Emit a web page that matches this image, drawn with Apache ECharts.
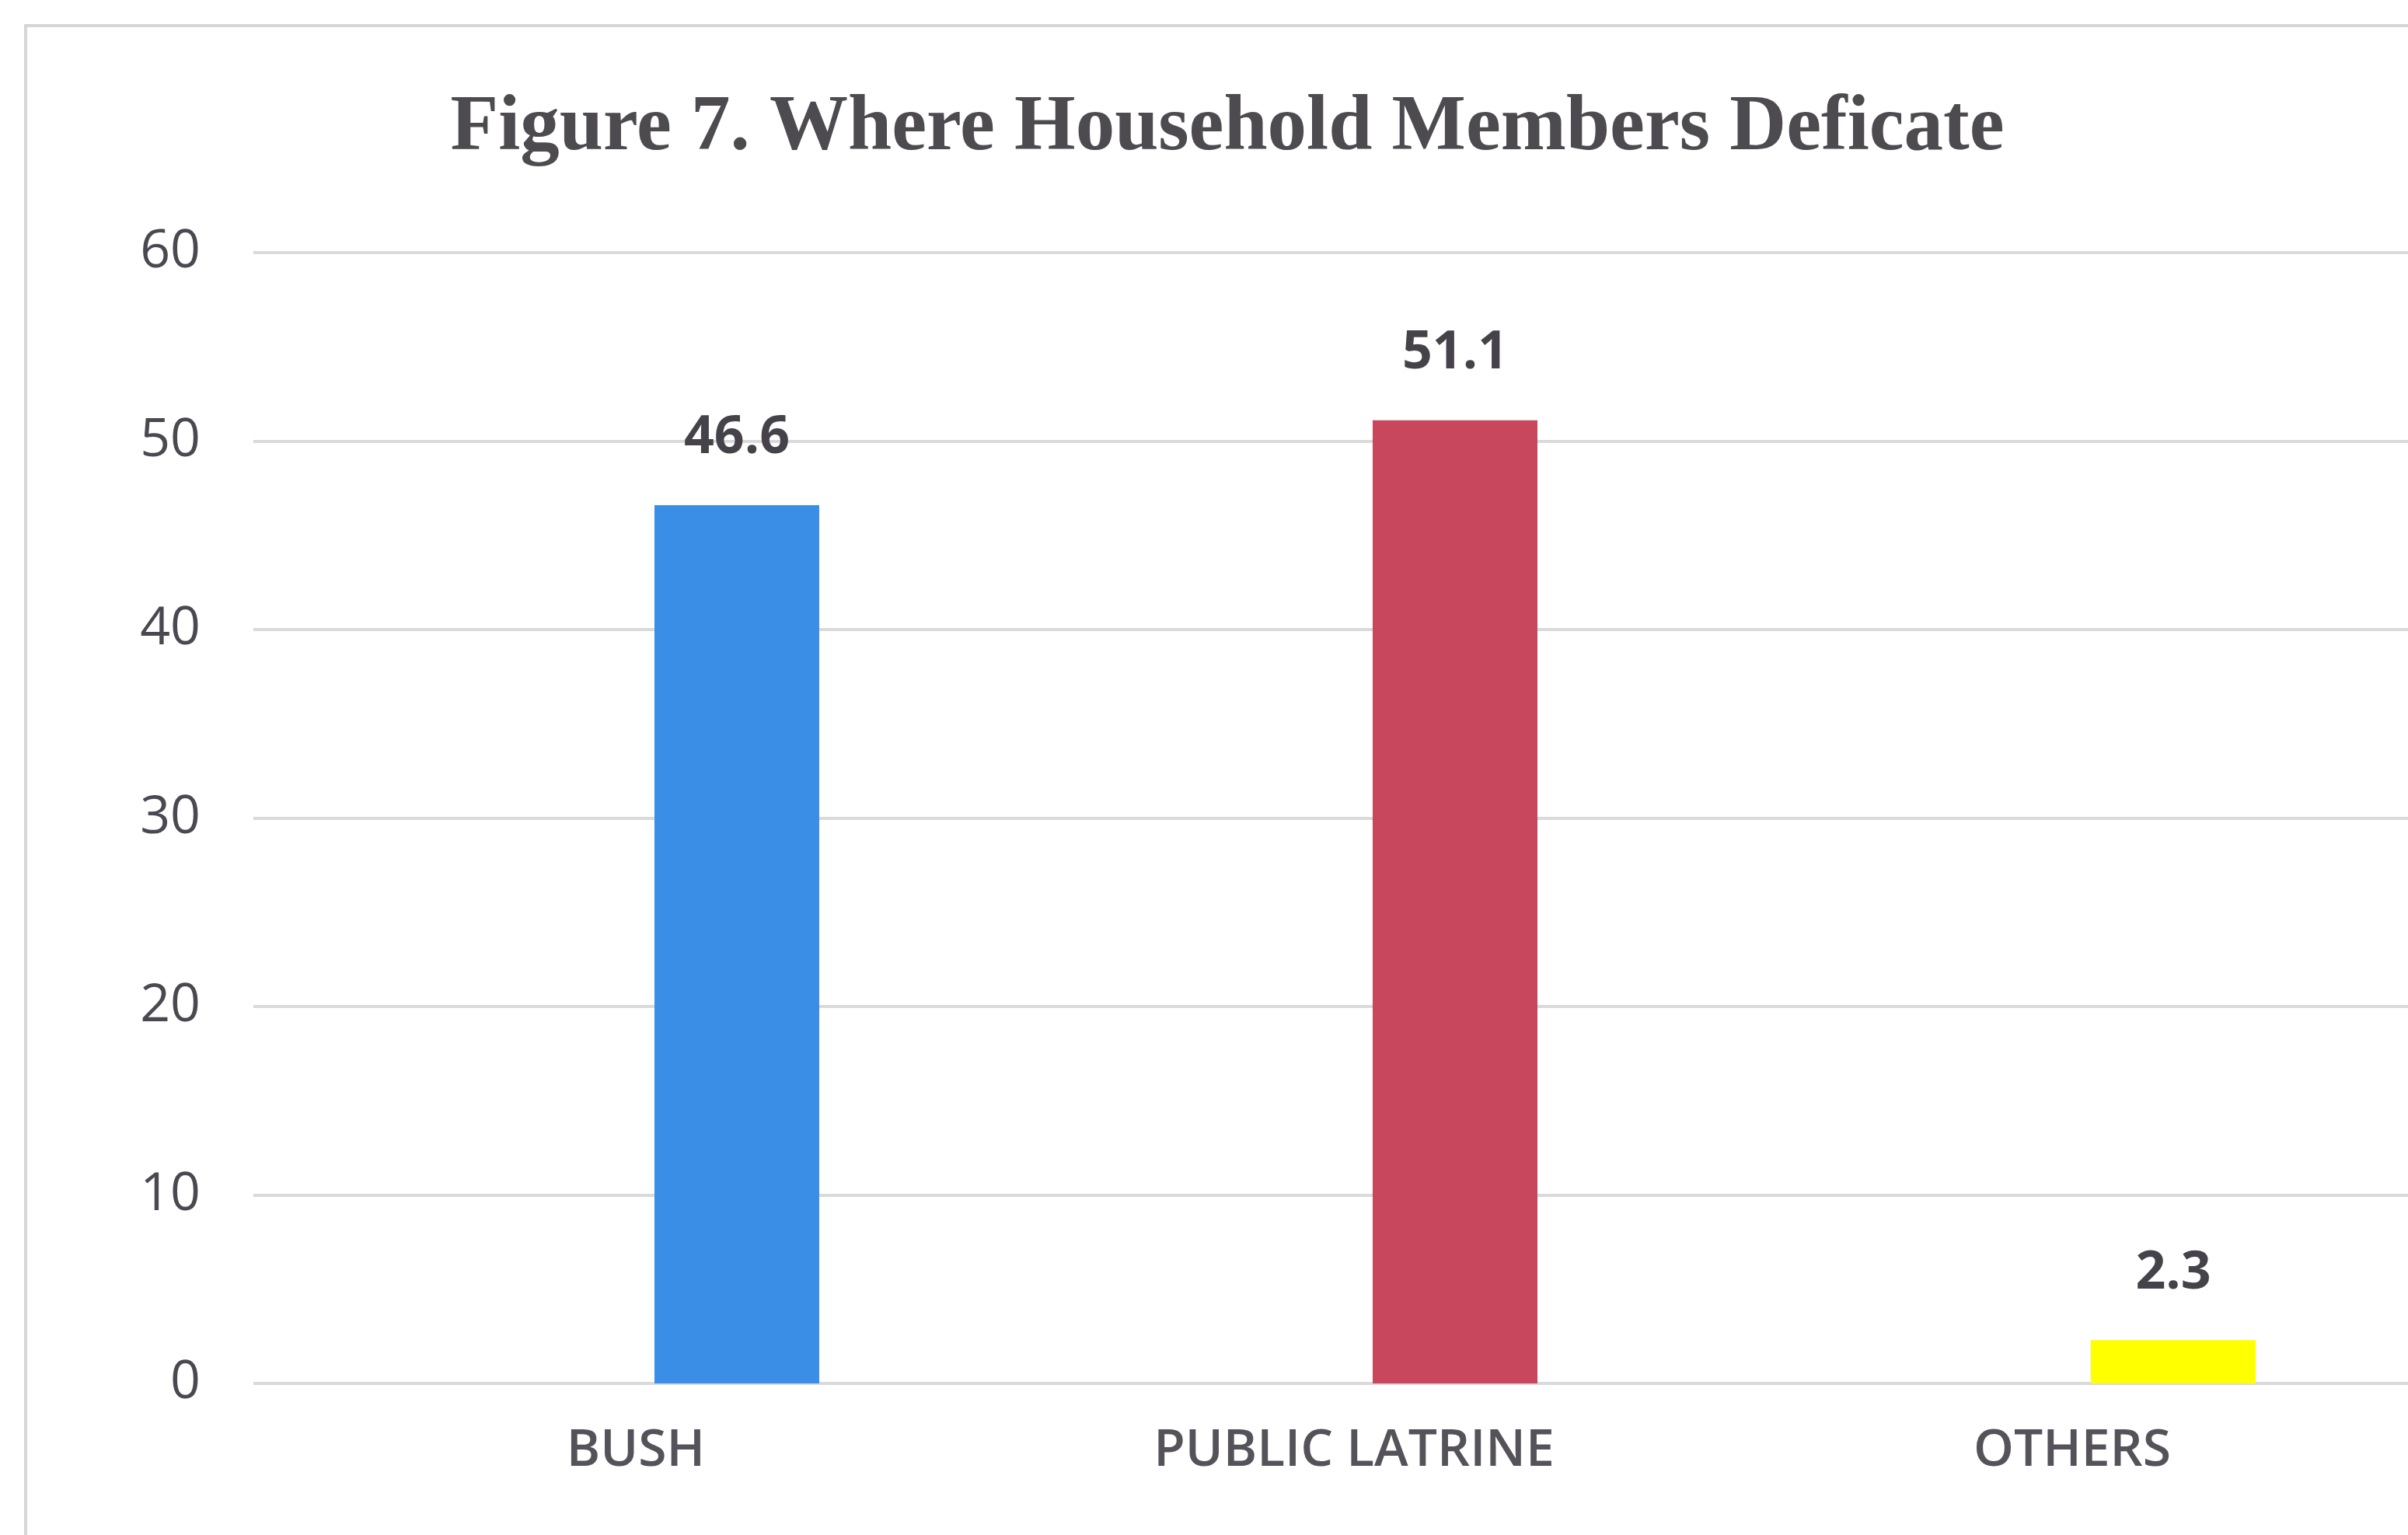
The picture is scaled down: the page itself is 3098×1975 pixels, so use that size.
<!DOCTYPE html>
<html>
<head>
<meta charset="utf-8">
<title>Figure 7. Where Household Members Deficate</title>
<script src="https://cdn.jsdelivr.net/npm/echarts@6/dist/echarts.min.js"></script>
<style>
  html, body { margin: 0; padding: 0; background: #ffffff; }
  #chart { width: 3098px; height: 1975px; }
</style>
</head>
<body>
<div id="chart"></div>
<script>
// Where household members defecate (percent of households)
const categories = ['BUSH', 'PUBLIC LATRINE', 'OTHERS'];
const percentages = [46.6, 51.1, 2.3];
const barColors = ['#3b8ee6', '#c9475d', '#ffff00'];
const yTicks = [0, 10, 20, 30, 40, 50, 60];

const chart = echarts.init(document.getElementById('chart'));

const option = {
  backgroundColor: '#ffffff',
  animation: false,
  title: {
    text: 'Figure 7. Where Household Members Deficate',
    left: 1574,
    top: 110,
    textAlign: 'center',
    textStyle: {
      fontFamily: 'Liberation Serif',
      fontWeight: 'bold',
      fontSize: 101,
      color: '#4d4a50'
    }
  },
  graphic: [{
    type: 'rect',
    silent: true,
    shape: { x: 33, y: 33, width: 3200, height: 2100 },
    style: { fill: 'none', stroke: '#d6d6d6', lineWidth: 4 }
  }],
  grid: [
    // value axis and gridlines
    { left: 326, right: 0, top: 325, bottom: 195 },
    // bars and category labels; the last band runs past the right edge
    { left: 486, width: 2772, top: 325, bottom: 195, outerBoundsMode: 'none', containLabel: false }
  ],
  xAxis: [
    { type: 'category', gridIndex: 0, data: categories, show: false },
    {
      type: 'category',
      gridIndex: 1,
      data: categories,
      axisLine: { show: false },
      axisTick: { show: false },
      axisLabel: {
        margin: 54,
        padding: [0, 260, 0, 0],
        fontFamily: 'Open Sans',
        fontWeight: 600,
        fontSize: 66,
        color: '#55525a'
      }
    }
  ],
  yAxis: [
    {
      type: 'value',
      gridIndex: 0,
      min: yTicks[0],
      max: yTicks[yTicks.length - 1],
      interval: 10,
      axisLine: { show: false },
      axisTick: { show: false },
      axisLabel: {
        margin: 68,
        fontFamily: 'Open Sans',
        fontSize: 68,
        color: '#4a4850'
      },
      splitLine: { lineStyle: { color: '#dadada', width: 4 } }
    },
    {
      type: 'value',
      gridIndex: 1,
      min: yTicks[0],
      max: yTicks[yTicks.length - 1],
      interval: 10,
      show: false
    }
  ],
  series: [{
    type: 'bar',
    xAxisIndex: 1,
    yAxisIndex: 1,
    barWidth: 212,
    data: percentages.map((v, i) => ({ value: v, itemStyle: { color: barColors[i] } })),
    label: {
      show: true,
      position: 'top',
      distance: 52,
      fontFamily: 'Open Sans',
      fontWeight: 'bold',
      fontSize: 68,
      color: '#45424a'
    }
  }]
};

chart.setOption(option);
</script>
</body>
</html>
